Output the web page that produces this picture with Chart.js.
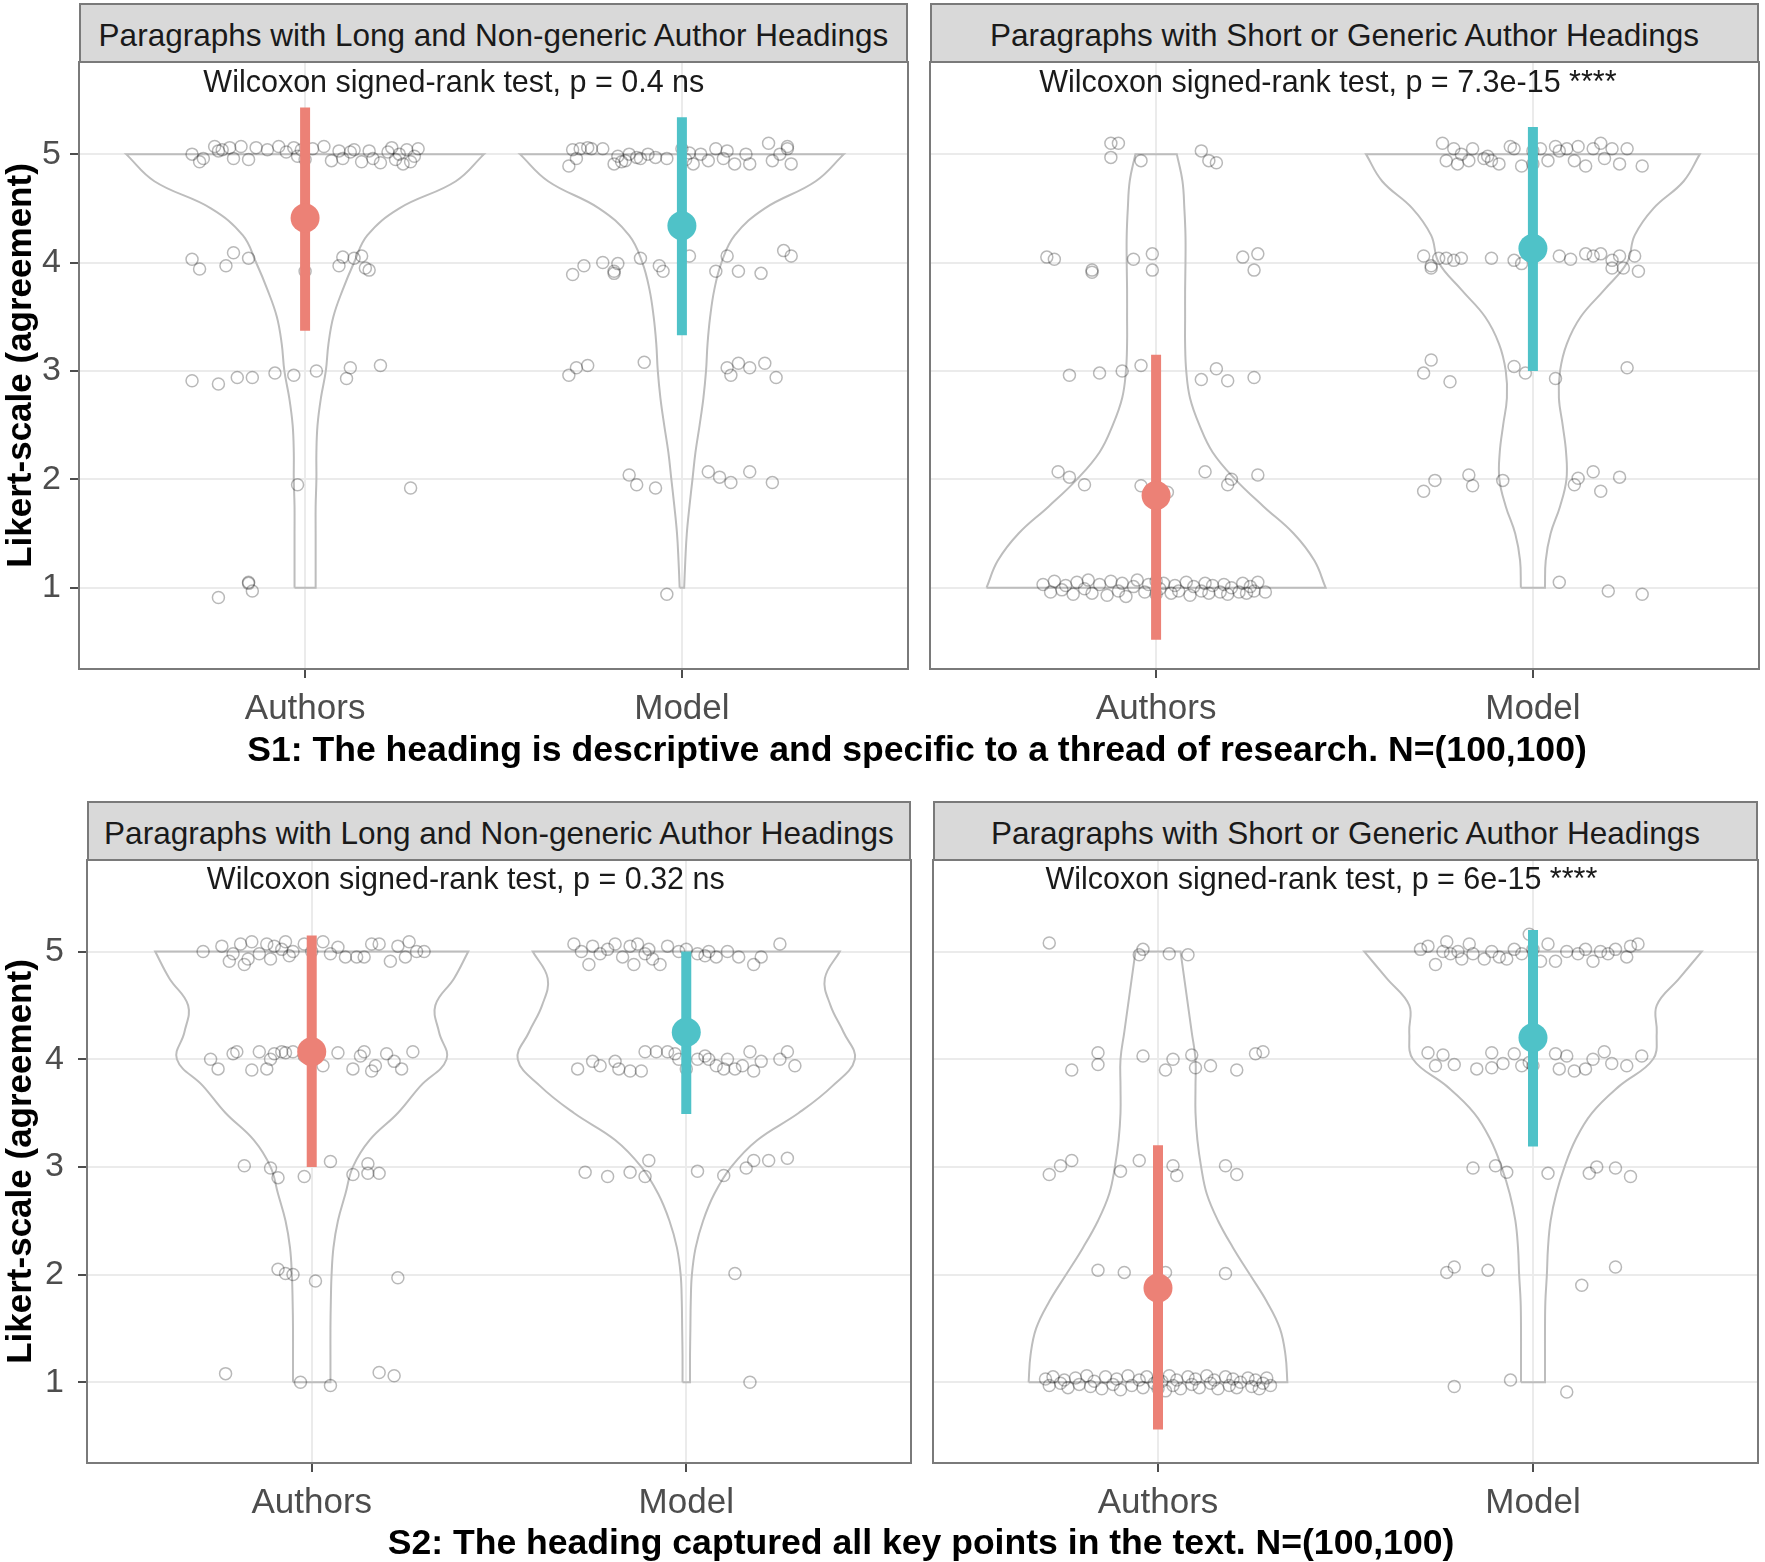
<!DOCTYPE html>
<html>
<head>
<meta charset="utf-8">
<title>Heading ratings</title>
<script src="https://cdn.jsdelivr.net/npm/chart.js@4.4.0/dist/chart.umd.min.js"></script>
<style>
  body { margin: 0; width: 1765px; height: 1562px; background: #fff; position: relative; overflow: hidden; font-family: "Liberation Sans", Arial, sans-serif; }
  canvas { position: absolute; }
  .strip { position: absolute; box-sizing: border-box; height: 60px; line-height: 60px; background: #d9d9d9; border: 2px solid #7a7a7a; color: #1a1a1a; font-size: 31.5px; text-align: center; white-space: nowrap; overflow: hidden; }
  .caption { position: absolute; transform: translateX(-50%); height: 40px; line-height: 40px; font-weight: bold; font-size: 35.6px; color: #000; white-space: nowrap; }
</style>
</head>
<body>
<div class="strip" id="strip0" style="left:79px; top:3px; width:829px;"></div>
<div class="strip" id="strip1" style="left:930px; top:3px; width:829px;"></div>
<div class="strip" id="strip2" style="left:87px; top:801px; width:824px;"></div>
<div class="strip" id="strip3" style="left:933px; top:801px; width:825px;"></div>
<canvas id="tl" width="920" height="700" style="left:0; top:52px;"></canvas>
<canvas id="tr" width="845" height="700" style="left:920px; top:52px;"></canvas>
<canvas id="bl" width="920" height="712" style="left:0; top:850px;"></canvas>
<canvas id="br" width="845" height="712" style="left:920px; top:850px;"></canvas>
<div class="caption" id="cap0" style="left:917px; top:729px;"></div>
<div class="caption" id="cap1" style="left:921px; top:1522px;"></div>
<script>
const categories = ['Authors', 'Model'];
const yTicks = [1, 2, 3, 4, 5];
const yTitle = 'Likert-scale (agreement)';
const panelTitles = ['Paragraphs with Long and Non-generic Author Headings', 'Paragraphs with Short or Generic Author Headings',
                     'Paragraphs with Long and Non-generic Author Headings', 'Paragraphs with Short or Generic Author Headings'];
const testLabels = ['Wilcoxon signed-rank test, p = 0.4 ns', 'Wilcoxon signed-rank test, p = 7.3e-15 ****',
                    'Wilcoxon signed-rank test, p = 0.32 ns', 'Wilcoxon signed-rank test, p = 6e-15 ****'];
const captions = ['S1: The heading is descriptive and specific to a thread of research. N=(100,100)',
                  'S2: The heading captured all key points in the text. N=(100,100)'];

// levels at which the violin half-widths (in category units) were read
const violinLevels = [1, 1.25, 1.5, 1.75, 2, 2.25, 2.5, 2.75, 3, 3.25, 3.5, 3.75, 4, 4.25, 4.5, 4.75, 5];

const tlAuthorsWidth = [0.028, 0.028, 0.028, 0.028, 0.03, 0.03, 0.033, 0.042, 0.055, 0.062, 0.075, 0.10, 0.13, 0.165, 0.25, 0.40, 0.475];
const tlModelWidth   = [0.006, 0.009, 0.013, 0.02, 0.028, 0.036, 0.047, 0.057, 0.064, 0.068, 0.075, 0.086, 0.105, 0.14, 0.22, 0.355, 0.43];
const trAuthorsWidth = [0.45, 0.42, 0.365, 0.285, 0.21, 0.15, 0.115, 0.09, 0.08, 0.077, 0.077, 0.077, 0.078, 0.078, 0.075, 0.07, 0.055];
const trModelWidth   = [0.032, 0.034, 0.047, 0.072, 0.089, 0.088, 0.079, 0.069, 0.072, 0.09, 0.127, 0.19, 0.25, 0.27, 0.32, 0.40, 0.443];
const blAuthorsWidth = [0.05, 0.05, 0.05, 0.051, 0.053, 0.058, 0.07, 0.09, 0.11, 0.155, 0.23, 0.29, 0.36, 0.34, 0.33, 0.38, 0.418];
const blModelWidth   = [0.01, 0.01, 0.011, 0.012, 0.015, 0.025, 0.045, 0.075, 0.12, 0.19, 0.30, 0.39, 0.45, 0.42, 0.385, 0.37, 0.41];
const brAuthorsWidth = [0.345, 0.34, 0.325, 0.29, 0.245, 0.2, 0.16, 0.13, 0.115, 0.105, 0.10, 0.10, 0.10, 0.09, 0.08, 0.07, 0.06];
const brModelWidth   = [0.032, 0.032, 0.032, 0.033, 0.037, 0.04, 0.047, 0.062, 0.084, 0.113, 0.157, 0.23, 0.32, 0.33, 0.33, 0.39, 0.45];

// jittered ratings: [offset from category, rating]
const tlAuthorsPts = [
  [-0.30,5.00],[-0.28,4.93],[-0.27,4.96],[-0.24,5.07],[-0.23,5.03],[-0.22,5.04],[-0.20,5.06],[-0.19,4.96],[-0.17,5.07],[-0.15,4.95],
  [-0.13,5.06],[-0.10,5.04],[-0.07,5.07],[-0.05,5.02],[-0.03,5.06],[-0.02,4.98],[-0.01,5.04],[0.00,4.95],[0.02,5.05],[0.05,5.07],
  [0.07,4.94],[0.09,5.03],[0.10,4.96],[0.12,5.02],[0.13,5.04],[0.15,4.93],[0.17,5.03],[0.18,4.96],[0.20,4.92],[0.22,5.02],
  [0.23,5.06],[0.24,4.95],[0.25,5.00],[0.26,4.91],[0.27,5.04],[0.28,4.93],[0.29,4.98],[0.30,5.05],
  [-0.30,4.03],[-0.28,3.94],[-0.21,3.97],[-0.19,4.09],[-0.15,4.04],[0.00,3.92],[0.09,3.97],[0.10,4.05],[0.13,4.04],[0.15,4.06],[0.16,3.95],[0.17,3.93],
  [-0.30,2.91],[-0.23,2.88],[-0.18,2.94],[-0.14,2.94],[-0.08,2.98],[-0.03,2.96],[0.03,3.00],[0.12,3.03],[0.11,2.93],[0.20,3.05],
  [-0.02,1.95],[0.28,1.92],
  [-0.23,0.91],[-0.15,1.05],[-0.14,0.97],[-0.15,1.04]
];
const tlModelPts = [
  [-0.30,4.89],[-0.28,4.96],[-0.27,5.05],[-0.25,5.06],[-0.24,5.05],[-0.21,5.05],[-0.18,4.91],[-0.17,4.98],[-0.15,4.94],[-0.14,5.00],
  [-0.12,4.97],[-0.11,4.96],[-0.09,5.00],[-0.07,4.97],[-0.04,4.96],[0.00,5.05],[0.02,5.01],[0.03,4.91],[0.05,5.00],[0.07,4.94],
  [0.09,5.05],[0.11,4.96],[0.14,4.91],[0.17,5.00],[0.18,4.91],[0.23,5.10],[0.24,4.94],[0.26,5.00],[0.28,5.05],[0.29,4.91],
  [0.28,5.07],[-0.29,5.04],[-0.16,4.93],[0.01,4.95],[0.12,5.03],
  [-0.29,3.89],[-0.26,3.97],[-0.21,4.00],[-0.18,3.90],[-0.17,3.99],[-0.18,3.92],[-0.11,4.04],[-0.06,3.97],[-0.05,3.92],[0.02,4.06],
  [0.09,3.92],[0.12,4.06],[0.15,3.92],[0.21,3.90],[0.27,4.11],[0.29,4.06],
  [-0.30,2.96],[-0.28,3.03],[-0.25,3.05],[-0.10,3.08],[0.12,3.03],[0.13,2.96],[0.15,3.07],[0.18,3.03],[0.22,3.07],[0.25,2.94],
  [-0.14,2.04],[-0.12,1.95],[-0.07,1.92],[0.07,2.07],[0.10,2.02],[0.13,1.97],[0.18,2.07],[0.24,1.97],
  [-0.04,0.94]
];
const trAuthorsPts = [
  [-0.12,5.10],[-0.10,5.10],[-0.12,4.97],[-0.04,4.94],[0.12,5.03],[0.14,4.94],[0.16,4.92],
  [-0.29,4.05],[-0.27,4.03],[-0.17,3.91],[-0.17,3.93],[-0.06,4.03],[-0.01,4.08],[-0.01,3.93],[0.23,4.05],[0.27,4.08],[0.26,3.93],
  [-0.23,2.96],[-0.15,2.98],[-0.09,3.00],[-0.04,3.05],[0.12,2.92],[0.16,3.02],[0.19,2.91],[0.26,2.94],
  [-0.26,2.07],[-0.23,2.02],[-0.19,1.95],[-0.04,1.94],[0.03,1.88],[0.13,2.07],[0.19,1.95],[0.20,2.00],[0.27,2.04],
  [-0.30,1.03],[-0.28,0.96],[-0.27,1.06],[-0.25,0.98],[-0.24,1.02],[-0.22,0.94],[-0.21,1.05],[-0.19,0.99],[-0.18,1.07],[-0.17,0.95],
  [-0.15,1.03],[-0.13,0.93],[-0.12,1.06],[-0.10,0.97],[-0.09,1.04],[-0.08,0.92],[-0.06,1.01],[-0.05,1.07],[-0.03,0.96],[-0.02,1.03],
  [0.00,0.94],[0.00,1.06],[0.01,0.99],[0.02,1.04],[0.04,0.95],[0.05,1.02],[0.06,0.97],[0.08,1.05],[0.09,0.93],[0.10,1.01],
  [0.12,0.97],[0.13,1.04],[0.14,0.95],[0.15,1.02],[0.17,0.96],[0.18,1.03],[0.19,0.94],[0.20,1.00],[0.22,0.96],[0.23,1.04],
  [0.24,0.95],[0.25,1.01],[0.26,0.97],[0.27,1.05],[0.29,0.96]
];
const trModelPts = [
  [-0.24,5.10],[-0.23,4.94],[-0.21,5.05],[-0.20,4.91],[-0.19,5.00],[-0.17,4.94],[-0.16,5.05],[-0.13,4.96],[-0.12,4.98],[-0.11,4.94],
  [-0.09,4.91],[-0.06,5.07],[-0.05,5.05],[-0.03,4.89],[0.00,5.03],[0.00,4.91],[0.02,5.05],[0.04,4.94],[0.06,5.07],[0.07,5.03],
  [0.09,5.05],[0.11,4.94],[0.12,5.07],[0.14,4.89],[0.16,5.05],[0.18,5.10],[0.19,4.96],[0.21,5.05],[0.23,4.91],[0.25,5.05],[0.29,4.89],
  [-0.29,4.06],[-0.27,3.97],[-0.25,4.04],[-0.23,4.04],[-0.21,4.02],[-0.19,4.04],[-0.11,4.04],[-0.05,4.02],[-0.03,3.99],[0.07,4.06],
  [0.10,4.03],[0.14,4.08],[0.16,4.06],[0.18,4.08],[0.21,4.02],[0.23,4.06],[0.27,4.06],[0.28,3.92],[0.24,3.95],[0.21,3.95],[-0.27,3.95],
  [-0.27,3.10],[-0.29,2.98],[-0.22,2.90],[-0.05,3.04],[-0.02,2.98],[0.06,2.93],[0.25,3.03],
  [-0.29,1.89],[-0.26,1.99],[-0.17,2.04],[-0.16,1.94],[-0.08,1.99],[0.11,1.95],[0.12,2.01],[0.16,2.07],[0.18,1.89],[0.23,2.02],
  [0.07,1.05],[0.20,0.97],[0.29,0.94]
];
const blAuthorsPts = [
  [-0.29,5.00],[-0.24,5.05],[-0.22,4.91],[-0.21,4.98],[-0.19,5.07],[-0.18,4.88],[-0.16,5.09],[-0.14,4.98],[-0.12,5.07],[-0.11,4.93],
  [-0.10,5.05],[-0.08,5.02],[-0.07,5.09],[-0.05,5.00],[-0.02,5.07],[0.00,5.00],[0.03,5.09],[0.05,4.98],[0.09,4.95],[0.12,4.95],
  [0.14,4.95],[0.16,5.07],[0.18,5.07],[0.21,4.91],[0.23,5.05],[0.25,4.95],[0.26,5.09],[0.28,5.00],[0.30,5.00],
  [-0.17,4.93],[-0.06,4.96],[0.07,5.04],
  [-0.27,4.00],[-0.25,3.91],[-0.21,4.05],[-0.20,4.07],[-0.16,3.90],[-0.14,4.07],[-0.12,3.91],[-0.11,4.00],[-0.10,4.05],[-0.08,4.07],
  [-0.07,4.06],[-0.05,4.07],[-0.02,4.03],[0.03,3.94],[0.07,4.06],[0.11,3.91],[0.13,4.03],[0.14,4.07],[0.16,3.89],[0.17,3.94],
  [0.20,4.05],[0.22,3.98],[0.24,3.91],[0.27,4.07],
  [-0.18,3.01],[-0.11,2.99],[-0.09,2.90],[-0.02,2.91],[0.05,3.05],[0.11,2.93],[0.15,3.03],[0.15,2.94],[0.18,2.94],
  [-0.09,2.05],[-0.07,2.01],[-0.05,2.00],[0.01,1.94],[0.23,1.97],
  [-0.23,1.08],[-0.03,1.00],[0.05,0.97],[0.18,1.09],[0.22,1.06]
];
const blModelPts = [
  [-0.30,5.07],[-0.28,5.00],[-0.26,4.88],[-0.25,5.05],[-0.23,4.98],[-0.21,5.02],[-0.19,5.07],[-0.17,4.95],[-0.15,5.05],[-0.14,4.88],
  [-0.13,5.07],[-0.11,4.98],[-0.10,5.02],[-0.07,4.88],[-0.05,5.05],[-0.02,5.00],[0.00,5.02],[0.03,4.98],[0.06,5.00],[0.08,4.95],
  [0.11,5.00],[0.14,4.95],[0.18,4.88],[0.20,4.95],[0.25,5.07],[-0.09,4.93],[0.05,4.96],
  [-0.29,3.91],[-0.25,3.98],[-0.23,3.94],[-0.19,3.98],[-0.18,3.91],[-0.15,3.89],[-0.12,3.89],[-0.11,4.07],[-0.08,4.07],[-0.05,4.07],
  [-0.03,4.05],[-0.02,4.00],[0.00,3.91],[0.03,4.00],[0.05,4.03],[0.06,4.00],[0.08,3.94],[0.10,3.91],[0.11,4.00],[0.13,3.91],
  [0.15,3.94],[0.17,4.07],[0.18,3.89],[0.20,3.98],[0.25,4.00],[0.27,4.07],[0.29,3.94],
  [-0.27,2.95],[-0.21,2.91],[-0.15,2.95],[-0.11,2.91],[-0.10,3.06],[0.03,2.96],[0.10,2.92],[0.16,2.99],[0.18,3.06],[0.22,3.06],[0.27,3.08],
  [0.13,2.01],
  [0.17,1.00]
];
const brAuthorsPts = [
  [-0.29,5.08],[-0.04,5.02],[-0.05,4.97],[0.03,4.98],[0.08,4.97],
  [-0.23,3.90],[-0.16,4.06],[-0.16,3.95],[-0.04,4.03],[0.02,3.90],[0.04,4.00],[0.09,4.04],[0.10,3.92],[0.14,3.94],[0.21,3.90],[0.26,4.05],[0.28,4.07],
  [-0.29,2.93],[-0.26,3.01],[-0.23,3.06],[-0.10,2.96],[-0.05,3.06],[0.04,3.01],[0.05,2.92],[0.18,3.01],[0.21,2.93],
  [-0.16,2.04],[-0.09,2.02],[0.02,2.02],[0.18,2.01],
  [-0.30,1.03],[-0.29,0.97],[-0.28,1.05],[-0.26,0.99],[-0.25,1.02],[-0.24,0.95],[-0.22,1.04],[-0.21,0.98],[-0.19,1.06],[-0.18,0.96],
  [-0.17,1.01],[-0.15,0.94],[-0.14,1.05],[-0.12,0.98],[-0.11,1.03],[-0.10,0.93],[-0.08,1.06],[-0.07,0.97],[-0.05,1.02],[-0.04,0.95],
  [-0.03,1.05],[-0.01,0.99],[0.00,1.03],[0.00,0.94],[0.01,1.01],[0.02,0.92],[0.03,1.06],[0.04,0.97],[0.05,1.02],[0.06,0.94],
  [0.08,1.05],[0.09,0.98],[0.10,1.03],[0.11,0.95],[0.13,1.06],[0.14,0.99],[0.15,1.02],[0.16,0.94],[0.18,1.05],[0.19,0.97],
  [0.20,1.03],[0.21,0.95],[0.22,1.00],[0.24,1.04],[0.25,0.96],[0.26,1.02],[0.27,0.94],[0.28,0.99],[0.29,1.04],[0.30,0.97]
];
const brModelPts = [
  [-0.30,5.02],[-0.28,5.05],[-0.26,4.88],[-0.24,5.00],[-0.23,5.09],[-0.22,4.98],[-0.20,5.00],[-0.19,4.93],[-0.17,5.07],[-0.16,4.98],
  [-0.13,4.93],[-0.11,5.00],[-0.09,4.95],[-0.07,4.93],[-0.05,5.02],[-0.03,4.98],[-0.01,5.16],[0.00,5.02],[0.02,4.91],[0.04,5.07],
  [0.06,4.91],[0.09,5.00],[0.12,4.98],[0.14,5.02],[0.16,4.91],[0.18,5.00],[0.20,4.98],[0.22,5.02],[0.25,4.95],[0.26,5.05],[0.28,5.07],
  [-0.28,4.06],[-0.26,3.94],[-0.24,4.04],[-0.21,3.95],[-0.15,3.91],[-0.11,4.06],[-0.11,3.92],[-0.08,3.96],[-0.05,4.05],[-0.03,3.94],
  [-0.01,3.97],[0.00,3.94],[0.06,4.05],[0.07,3.91],[0.09,4.03],[0.11,3.89],[0.14,3.91],[0.16,4.00],[0.19,4.07],[0.21,3.96],[0.25,3.94],[0.29,4.03],
  [-0.16,2.99],[-0.10,3.01],[-0.07,2.95],[0.04,2.94],[0.15,2.94],[0.17,3.00],[0.22,2.99],[0.26,2.91],
  [-0.23,2.02],[-0.21,2.07],[-0.12,2.04],[0.13,1.90],[0.22,2.07],
  [-0.21,0.96],[-0.06,1.02],[0.09,0.91]
];

// mean and mean +/- sd per panel, [Authors, Model]
const tlMean = [4.41, 4.34], tlLow = [3.37, 3.33], tlHigh = [5.43, 5.34];
const trMean = [1.85, 4.13], trLow = [0.52, 3.00], trHigh = [3.15, 5.25];
const blMean = [4.07, 4.25], blLow = [3.00, 3.49], blHigh = [5.15, 5.00];
const brMean = [1.875, 4.20], brLow = [0.56, 3.19], brHigh = [3.20, 5.20];

const groupColors = ['#ec8176', '#4fc2c8'];
const fontFamily = '"Liberation Sans", Arial, sans-serif';
Chart.defaults.font.family = fontFamily;

function violinPath(c, widths) {
  const n = violinLevels.length;
  const right = violinLevels.map((y, i) => ({x: c + widths[i], y: y}));
  const left = violinLevels.map((y, i) => ({x: c - widths[i], y: y}));
  const pts = [left[0], right[0]];
  // corner points are doubled so that the flat ends stay straight under tension
  for (let i = 0; i < n; i++) pts.push(right[i]);
  pts.push(right[n - 1], left[n - 1]);
  for (let i = n - 1; i >= 0; i--) pts.push(left[i]);
  return pts;
}

// fixed axis sizes so the panels land exactly where the facets are
function fixAxis(s, w, h) {
  if (w !== null) s.width = w;
  if (h !== null) s.height = h;
  s.paddingTop = 0;
  s.paddingBottom = 0;
  s.paddingLeft = 0;
  s.paddingRight = 0;
}

const panelBorder = {
  id: 'panelBorder',
  afterDraw(chart) {
    const a = chart.chartArea, ctx = chart.ctx;
    ctx.save();
    ctx.strokeStyle = '#7a7a7a';
    ctx.lineWidth = 2;
    ctx.strokeRect(a.left, a.top, a.right - a.left, a.bottom - a.top);
    ctx.restore();
  }
};

const testLabel = {
  id: 'testLabel',
  afterDatasetsDraw(chart, args, opts) {
    const ctx = chart.ctx;
    ctx.save();
    ctx.font = '30.5px ' + fontFamily;
    ctx.fillStyle = '#1a1a1a';
    ctx.textAlign = 'left';
    ctx.textBaseline = 'middle';
    ctx.fillText(opts.text, chart.scales.x.getPixelForValue(opts.x), chart.scales.y.getPixelForValue(5.655));
    ctx.restore();
  }
};

function buildPanel(id, p) {
  const datasets = [];
  [0, 1].forEach(function(g) {
    const c = g + 1;
    datasets.push({ data: violinPath(c, p.widths[g]), showLine: true, tension: 0.4, borderColor: '#bdbdbd', borderWidth: 2, pointRadius: 0, order: 4 });
    datasets.push({ data: p.points[g].map(pt => ({x: c + pt[0], y: pt[1]})), pointRadius: 6, pointBorderWidth: 1.5,
                    pointBackgroundColor: 'rgba(0,0,0,0)', pointBorderColor: 'rgba(0,0,0,0.28)', order: 3 });
    datasets.push({ data: [{x: c, y: p.low[g]}, {x: c, y: p.high[g]}], showLine: true, borderColor: groupColors[g], borderWidth: 10,
                    borderCapStyle: 'butt', pointRadius: 0, order: 2 });
    datasets.push({ data: [{x: c, y: p.mean[g]}], pointRadius: 14.5, pointBorderWidth: 0, pointBackgroundColor: groupColors[g], order: 1 });
  });

  new Chart(document.getElementById(id), {
    type: 'scatter',
    data: { datasets: datasets },
    plugins: [panelBorder, testLabel],
    options: {
      responsive: false,
      animation: false,
      events: [],
      layout: { autoPadding: false, padding: { top: 10, right: p.padRight, left: 0, bottom: 0 } },
      plugins: {
        legend: { display: false },
        tooltip: { enabled: false },
        testLabel: { text: p.label, x: p.labelX }
      },
      scales: {
        x: {
          type: 'linear', min: 0.4, max: 2.6,
          afterBuildTicks: s => { s.ticks = categories.map((name, i) => ({ value: i + 1 })); },
          afterFit: s => fixAxis(s, null, p.xHeight),
          ticks: { callback: v => categories[v - 1] || '', color: '#4d4d4d', font: { size: 35 }, padding: 10, maxRotation: 0, autoSkip: false },
          grid: { color: '#ebebeb', lineWidth: 2, tickColor: '#4d4d4d', tickLength: 9, tickWidth: 2 },
          border: { display: false }
        },
        y: {
          type: 'linear', min: 0.25, max: 5.85,
          afterBuildTicks: s => { s.ticks = yTicks.map(v => ({ value: v })); },
          afterFit: s => fixAxis(s, p.yWidth, null),
          ticks: { display: p.showY, color: '#4d4d4d', font: { size: 34 }, padding: p.tickPad },
          grid: { color: '#ebebeb', lineWidth: 2, tickColor: '#4d4d4d', tickLength: 9, tickWidth: 2, drawTicks: p.showY },
          border: { display: false },
          title: { display: p.showY, text: yTitle, color: '#000', font: { size: 35, weight: 'bold' }, padding: 0 }
        }
      }
    }
  });
}

buildPanel('tl', { widths: [tlAuthorsWidth, tlModelWidth], points: [tlAuthorsPts, tlModelPts], mean: tlMean, low: tlLow, high: tlHigh,
                   label: testLabels[0], labelX: 0.73, showY: true, yWidth: 79, tickPad: 9, padRight: 12, xHeight: 83 });
buildPanel('tr', { widths: [trAuthorsWidth, trModelWidth], points: [trAuthorsPts, trModelPts], mean: trMean, low: trLow, high: trHigh,
                   label: testLabels[1], labelX: 0.69, showY: false, yWidth: 10, tickPad: 9, padRight: 6, xHeight: 83 });
buildPanel('bl', { widths: [blAuthorsWidth, blModelWidth], points: [blAuthorsPts, blModelPts], mean: blMean, low: blLow, high: blHigh,
                   label: testLabels[2], labelX: 0.72, showY: true, yWidth: 87, tickPad: 14, padRight: 9, xHeight: 99 });
buildPanel('br', { widths: [brAuthorsWidth, brModelWidth], points: [brAuthorsPts, brModelPts], mean: brMean, low: brLow, high: brHigh,
                   label: testLabels[3], labelX: 0.70, showY: false, yWidth: 13, tickPad: 9, padRight: 7, xHeight: 99 });

panelTitles.forEach((t, i) => { document.getElementById('strip' + i).textContent = t; });
captions.forEach((t, i) => { document.getElementById('cap' + i).textContent = t; });
</script>
</body>
</html>
